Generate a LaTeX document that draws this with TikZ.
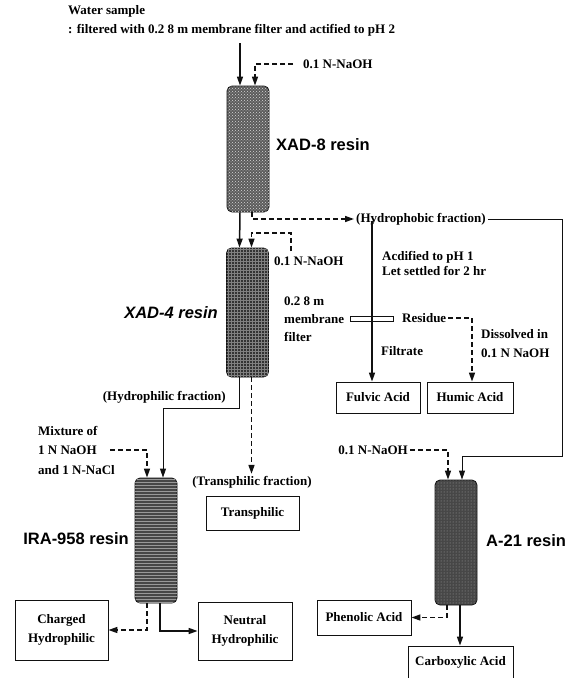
\documentclass[tikz,border=0pt]{standalone}
\usepackage{fontspec}
\setmainfont{Liberation Serif}
\newfontfamily\resinfont{Liberation Sans}
\usetikzlibrary{arrows.meta,positioning,patterns}
\definecolor{ink}{HTML}{111111}
\definecolor{bedgray}{HTML}{333333}
\tikzset{
  lbl/.style={font=\fontsize{13}{15}\selectfont\bfseries, inner sep=2pt, align=left},
  resin/.style={font=\fontsize{16.5}{19}\selectfont\resinfont\bfseries, inner sep=2pt},
  prodbox/.style={draw=ink, line width=0.8pt, fill=white, align=center, inner sep=2pt,
                  font=\fontsize{13}{19}\selectfont\bfseries},
  column/.style={draw=ink, rounded corners=5pt, minimum width=42pt, minimum height=126pt,
                 inner sep=0pt, line width=0.8pt},
  bedxad8/.style={column, fill=bedgray!80, postaction={pattern=crosshatch dots, pattern color=black!15}},
  bedxad4/.style={column, fill=bedgray, postaction={pattern=grid, pattern color=black!50}},
  bedira/.style={column, fill=bedgray!90, postaction={pattern=horizontal lines, pattern color=black!40}},
  beda21/.style={column, fill=bedgray!90, postaction={pattern=dots, pattern color=black!35}},
  ar/.style={-{Triangle[length=9pt,width=6pt]}, line width=1.5pt, draw=ink},
  arthin/.style={-{Triangle[length=9pt,width=6pt]}, line width=0.9pt, draw=ink},
  dar/.style={-{Triangle[length=9pt,width=6pt]}, line width=1.5pt, draw=ink,
              dash pattern=on 5pt off 3pt}
}
\begin{document}
\begin{tikzpicture}[x=1pt,y=-1pt]
  \useasboundingbox (0,0) rectangle (570,678);
  % columns
  \node[bedxad8, minimum height=126pt] (xad8) at (248,149) {};
  \node[bedxad4, minimum height=129pt] (xad4) at (247.5,312.5) {};
  \node[bedira, minimum height=125pt] (ira) at (156,540.5) {};
  \node[beda21, minimum height=125pt] (a21) at (456,542.5) {};
  % column labels
  \node[resin, anchor=west] (lblxad8) at (274,145) {XAD-8 resin};
  \node[resin, anchor=east] (lblxad4) at (220,313) {\itshape XAD-4 resin};
  \node[resin, anchor=east] (lblira) at (131,539) {IRA-958 resin};
  \node[resin, anchor=west] (lbla21) at (484,541) {A-21 resin};
  % texts
  \node[lbl, anchor=north west, font=\fontsize{13}{19}\selectfont\bfseries] (water) at (66,3)
    {Water sample\\: filtered with 0.2 8 m membrane filter and actified to pH 2};
  \node[lbl, anchor=west] (naoh1) at (301,64) {0.1 N-NaOH};
  \node[lbl, anchor=west] (hydrophobic) at (354,219) {(Hydrophobic fraction)};
  \node[lbl, anchor=west] (naoh2) at (272,261) {0.1 N-NaOH};
  \node[lbl, anchor=north west] (acid) at (380,249) {Acdified to pH 1\\Let settled for 2 hr};
  \node[lbl, anchor=west, font=\fontsize{13}{18}\selectfont\bfseries] (membrane) at (282,319)
    {0.2 8 m\\membrane\\filter};
  \node[draw=ink, line width=0.8pt, fill=white, minimum width=43pt, minimum height=5pt,
        inner sep=0pt] (filt) at (372,318.5) {};
  \node[lbl, anchor=west] (residue) at (400,318) {Residue};
  \node[lbl, anchor=west, font=\fontsize{13}{19}\selectfont\bfseries] (dissolved) at (479,343.5)
    {Dissolved in\\0.1 N NaOH};
  \node[lbl, anchor=west] (filtrate) at (379,351) {Filtrate};
  \node[lbl, anchor=east] (hydrophilic) at (228,397) {(Hydrophilic fraction)};
  \node[lbl, anchor=west, font=\fontsize{13}{19.5}\selectfont\bfseries] (mixture) at (36,450)
    {Mixture of\\1 N NaOH\\and 1 N-NaCl};
  \node[lbl] (transfrac) at (252,482) {(Transphilic fraction)};
  \node[lbl, anchor=east] (naoh3) at (410,450) {0.1 N-NaOH};
  % product boxes
  \node[prodbox, minimum width=84pt, minimum height=31pt] (fulvic) at (378,397.5) {Fulvic Acid};
  \node[prodbox, minimum width=86pt, minimum height=31pt] (humic) at (470,397.5) {Humic Acid};
  \node[prodbox, minimum width=93pt, minimum height=34pt] (transphilic) at (252.5,513) {Transphilic};
  \node[prodbox, minimum width=93pt, minimum height=60pt] (charged) at (61.5,630) {Charged\\Hydrophilic};
  \node[prodbox, minimum width=94pt, minimum height=58pt] (neutral) at (245,631) {Neutral\\Hydrophilic};
  \node[prodbox, minimum width=94pt, minimum height=35pt] (phenolic) at (364,617.5) {Phenolic Acid};
  \node[prodbox, minimum width=105pt, minimum height=32pt] (carboxylic) at (460.5,662) {Carboxylic Acid};
  % free ends
  \coordinate (w8) at (240,43);
  \coordinate (n2) at (291,251);
  \coordinate (rt) at (562,219);
  \coordinate (rb) at (562,456);
  \coordinate (mx) at (110,450);
  % connectors
  \draw[ar] (w8) -- (w8 |- xad8.north);
  \draw[dar] ([xshift=-8pt]naoh1.west) -| ([xshift=7pt]xad8.north);
  \draw[ar] ([xshift=-8pt]xad8.south) -- ([xshift=-8pt]xad4.north);
  \draw[dar] ([xshift=4pt]xad8.south) |- (hydrophobic.west);
  \draw[arthin] (hydrophobic.east) -- (rt) -- (rb) -| ([xshift=6pt]a21.north);
  \draw[dar] (n2) -- ++(0,-18) -| ([xshift=4pt]xad4.north);
  \draw[ar] ([yshift=6pt]filt |- hydrophobic.south) -- (filt |- fulvic.north);
  \draw[dar] (residue.east) -| ([xshift=2pt]humic.north);
  \draw[dar] (naoh3.east) -| ([xshift=-8pt]a21.north);
  \draw[dar] ([xshift=-9pt]a21.south) |- (phenolic.east);
  \draw[ar] ([xshift=4pt]a21.south) -- ([xshift=4pt]a21.south |- carboxylic.north);
  \draw[arthin] ([xshift=-8pt]xad4.south) -- ++(0,31) -| ([xshift=7pt]ira.north);
  \draw[dar] ([xshift=4pt]xad4.south) -- ([xshift=4pt]xad4.south |- transfrac.north);
  \draw[dar] (mx) -| ([xshift=-9pt]ira.north);
  \draw[dar] ([xshift=-9pt]ira.south) |- (charged.east);
  \draw[ar] ([xshift=4pt]ira.south) |- (neutral.west);
\end{tikzpicture}
\end{document}
